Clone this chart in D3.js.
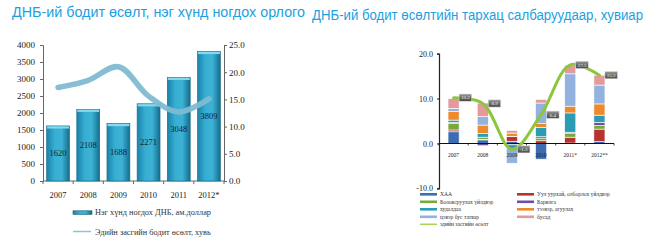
<!DOCTYPE html>
<html><head><meta charset="utf-8">
<script src="https://cdn.jsdelivr.net/npm/d3@7"></script>
<style>body{margin:0;background:#fff}svg{display:block}</style>
</head><body>
<svg id="c" width="667" height="241"></svg>
<script>
// ---------- data: left chart ----------
const yearsL = ["2007","2008","2009","2010","2011","2012*"];
const gdpPerCapita = [1620,2108,1688,2271,3048,3809];
const growthLeft = [17.2,18.5,21.0,15.6,12.7,15.1];
const leftTicks = [0,500,1000,1500,2000,2500,3000,3500,4000];
const rightTicks = [0,5,10,15,20,25];

// ---------- data: right chart ----------
const yearsR = ["2007","2008","2009","2010","2011*","2012**"];
const sectorNames = ["ХАА","Уул уурхай, олборлох үйлдвэр","Боловсруулах үйлдвэр","Барилга","худалдаа","тээвэр, агуулах","цэвэр бус татвар","бусад"];
const agri      = [2.6, 0.8, 0.5,-3.5, 0.1, 0.4];
const mining    = [0.4, 0.1, 1.0, 0.6, 1.3, 2.8];
const manuf     = [1.5, 0.5, 0.1, 0.6, 0.8, 0.8];
const constr    = [0.2,-0.5,-0.3, 0.3, 0.3, 0.7];
const trade     = [0.5, 0.8,-0.8, 2.1, 4.3, 1.6];
const transport = [1.9, 1.9, 0.7, 0.8, 1.5, 2.5];
const netTax    = [0.7, 1.9,-3.3, 4.6, 7.2, 4.2];
const other     = [2.2, 3.0, 0.6, 0.8, 1.9, 2.2];
const growthRight = [10.2, 8.9,-1.3, 6.4, 17.5, 15.2];
const growthName = "эдийн засгийн өсөлт";
const rightAxisTicks = [-10,0,10,20];

const sectorColors = ["#3b6db3","#b8322f","#79a83b","#6e50a0","#2c9cb4","#ef8a2c","#94b2df","#e49a9b"];

const svg = d3.select("#c");
const serif = "'Liberation Serif','Times New Roman',serif";
const sans = "'Liberation Sans',Arial,sans-serif";

const defs = svg.append("defs");
const bg = defs.append("linearGradient").attr("id","barGrad").attr("x1","0").attr("x2","1").attr("y1","0").attr("y2","0");
[["0","#1a82a9"],["0.35","#37aed2"],["0.65","#3cb3d6"],["1","#146c8c"]].forEach(s=>bg.append("stop").attr("offset",s[0]).attr("stop-color",s[1]));
const boxG = defs.append("linearGradient").attr("id","boxGrad").attr("x1","0").attr("x2","0").attr("y1","0").attr("y2","1");
[["0","#9a9a9a"],["0.5","#6a6a6a"],["1","#4a4a4a"]].forEach(s=>boxG.append("stop").attr("offset",s[0]).attr("stop-color",s[1]));

// ---------- titles ----------
svg.append("text").attr("x",12).attr("y",17.3).attr("font-family",sans).attr("font-size",15)
  .attr("fill","#1ba1df").attr("textLength",293).attr("lengthAdjust","spacingAndGlyphs")
  .text("ДНБ-ий бодит өсөлт, нэг хүнд ногдох орлого");
svg.append("text").attr("x",312).attr("y",19.5).attr("font-family",sans).attr("font-size",13.8)
  .attr("fill","#1ba1df").attr("textLength",331).attr("lengthAdjust","spacingAndGlyphs")
  .text("ДНБ-ий бодит өсөлтийн тархац салбаруудаар, хувиар");

// ---------- left chart ----------
const xL = d3.scaleBand().domain(yearsL).range([43,224]).paddingInner(0.24).paddingOuter(0.12);
const yL = d3.scaleLinear().domain([0,4000]).range([181,45]);
const yR = d3.scaleLinear().domain([0,25]).range([181,45]);
const L = svg.append("g");

const axL = L.append("g").attr("transform","translate(43,0)")
  .call(d3.axisLeft(yL).tickValues(leftTicks).tickSize(3).tickPadding(5).tickFormat(d=>String(d)));
const axR = L.append("g").attr("transform","translate(224,0)")
  .call(d3.axisRight(yR).tickValues(rightTicks).tickSize(3).tickPadding(2).tickFormat(d=>d.toFixed(1)));
[axL,axR].forEach(a=>{
  a.select(".domain").attr("stroke","#666");
  a.selectAll(".tick line").attr("stroke","#666");
  a.selectAll("text").attr("font-family",serif).attr("font-size",9).attr("fill","#222");
});
// x axis
L.append("line").attr("x1",43).attr("x2",224).attr("y1",181).attr("y2",181).attr("stroke","#666");
d3.range(yearsL.length+1).forEach(i=>{
  const x = 43 + i*xL.step();
  L.append("line").attr("x1",x).attr("x2",x).attr("y1",181).attr("y2",184).attr("stroke","#666");
});
L.selectAll(".xl").data(yearsL).join("text").attr("class","xl")
  .attr("x",d=>xL(d)+xL.bandwidth()/2).attr("y",198).attr("text-anchor","middle")
  .attr("font-family",serif).attr("font-size",8.5).attr("fill","#222").text(d=>d);

// bars
const bars = L.selectAll(".bar").data(gdpPerCapita).join("g").attr("class","bar");
bars.append("rect").attr("x",(d,i)=>xL(yearsL[i])).attr("y",d=>yL(d))
  .attr("width",xL.bandwidth()).attr("height",d=>181-yL(d))
  .attr("fill","url(#barGrad)").attr("stroke","#17698a").attr("stroke-width",0.6);
bars.append("rect").attr("x",(d,i)=>xL(yearsL[i])+0.5).attr("y",d=>yL(d)+0.4)
  .attr("width",xL.bandwidth()-1).attr("height",2.2).attr("fill","#86d8ee");
bars.append("text").attr("x",(d,i)=>xL(yearsL[i])+xL.bandwidth()/2)
  .attr("y",d=>(yL(d)+181)/2+3).attr("text-anchor","middle")
  .attr("font-family",serif).attr("font-size",8.5).attr("fill","#15222e").text(d=>d);

// growth line
const lineL = d3.line().x((d,i)=>xL(yearsL[i])+xL.bandwidth()/2).y(d=>yR(d)).curve(d3.curveCatmullRom);
L.append("path").attr("d",lineL(growthLeft)).attr("fill","none").attr("stroke","#7fbad1")
  .attr("stroke-width",5.5).attr("stroke-linecap","round").attr("opacity",0.95);

// left legend
L.append("rect").attr("x",73).attr("y",210.8).attr("width",19).attr("height",3.6)
  .attr("fill","url(#barGrad)").attr("stroke","#17607a").attr("stroke-width",0.6);
L.append("text").attr("x",95).attr("y",215).attr("font-family",serif).attr("font-size",8.3).attr("fill","#333")
  .text("Нэг хүнд ногдох ДНБ, ам.доллар");
L.append("line").attr("x1",73).attr("x2",91).attr("y1",231.5).attr("y2",231.5).attr("stroke","#8cc4da").attr("stroke-width",1.5);
L.append("text").attr("x",95).attr("y",234.5).attr("font-family",serif).attr("font-size",8.3).attr("fill","#333")
  .text("Эдийн засгийн бодит өсөлт, хувь");

// ---------- right chart ----------
const series = [agri,mining,manuf,constr,trade,transport,netTax,other];
const rows = yearsR.map((y,i)=>{ const r={year:y}; sectorNames.forEach((n,k)=>r[n]=series[k][i]); return r; });
const stacked = d3.stack().keys(sectorNames).offset(d3.stackOffsetDiverging)(rows);

const xB = d3.scaleBand().domain(yearsR).range([439,614]).paddingInner(0.62).paddingOuter(0.31);
const yB = d3.scaleLinear().domain([-10,20]).range([188.4,53.6]);
const R = svg.append("g");

stacked.forEach((s,k)=>{
  R.selectAll(".s"+k).data(s).join("rect").attr("class","s"+k)
    .attr("x",d=>xB(d.data.year)).attr("width",xB.bandwidth())
    .attr("y",d=>yB(Math.max(d[0],d[1]))).attr("height",d=>Math.abs(yB(d[0])-yB(d[1])))
    .attr("fill",sectorColors[k]).attr("stroke","#fff").attr("stroke-width",0.6);
});

const axB = R.append("g").attr("transform","translate(439,0)")
  .call(d3.axisLeft(yB).tickValues(rightAxisTicks).tickSize(2).tickPadding(4).tickFormat(d=>d.toFixed(1)));
axB.select(".domain").attr("stroke","#222").attr("stroke-width",1.2);
axB.selectAll(".tick line").attr("stroke","#222");
axB.selectAll("text").attr("font-family",serif).attr("font-size",8).attr("fill","#222");

R.append("line").attr("x1",439).attr("x2",614).attr("y1",yB(0)).attr("y2",yB(0)).attr("stroke","#111").attr("stroke-width",1.1);
d3.range(yearsR.length+1).forEach(i=>{
  const x = 439 + i*xB.step();
  R.append("line").attr("x1",x).attr("x2",x).attr("y1",yB(0)).attr("y2",yB(0)+2).attr("stroke","#111").attr("stroke-width",0.8);
});

const cxB = y => xB(y)+xB.bandwidth()/2;
const lineR = d3.line().x((d,i)=>cxB(yearsR[i])).y(d=>yB(d)).curve(d3.curveCatmullRom);
R.append("path").attr("d",lineR(growthRight)).attr("fill","none").attr("stroke","#8cc63f")
  .attr("stroke-width",3).attr("stroke-linecap","round");

R.selectAll(".xr").data(yearsR).join("text").attr("class","xr")
  .attr("x",d=>cxB(d)).attr("y",yB(0)+14).attr("text-anchor","middle")
  .attr("font-family",serif).attr("font-size",5.5).attr("fill","#222").text(d=>d);

const lab = R.selectAll(".lab").data(growthRight).join("g").attr("class","lab");
lab.append("rect").attr("x",(d,i)=>cxB(yearsR[i])+5.5).attr("y",d=>yB(d)-3.6)
  .attr("width",12.5).attr("height",7.2).attr("fill","url(#boxGrad)").attr("stroke","#d8d8d8").attr("stroke-width",0.5);
lab.append("text").attr("x",(d,i)=>cxB(yearsR[i])+11.75).attr("y",d=>yB(d)+1.8)
  .attr("text-anchor","middle").attr("font-family",serif).attr("font-size",5).attr("fill","#f4f4f4")
  .text(d=>d.toFixed(1));

// right legend
const legItems = sectorNames.map((n,k)=>({name:n,color:sectorColors[k]}));
legItems.push({name:growthName,color:"#a6d15a"});
const leftCol = [0,2,4,6,8], rightCol = [1,3,5,7];
const rowY = [194.3,201.8,209.3,216.8,224.3];
function legRow(idx,row,x0){
  const it = legItems[idx];
  R.append("line").attr("x1",x0).attr("x2",x0+17).attr("y1",rowY[row]).attr("y2",rowY[row])
    .attr("stroke",it.color).attr("stroke-width",idx===8?1.5:2.6);
  R.append("text").attr("x",x0+20).attr("y",rowY[row]+1.9).attr("font-family",serif)
    .attr("font-size",5.6).attr("fill","#333").text(it.name);
}
leftCol.forEach((idx,r)=>legRow(idx,r,420));
rightCol.forEach((idx,r)=>legRow(idx,r,517));
</script>
</body></html>
